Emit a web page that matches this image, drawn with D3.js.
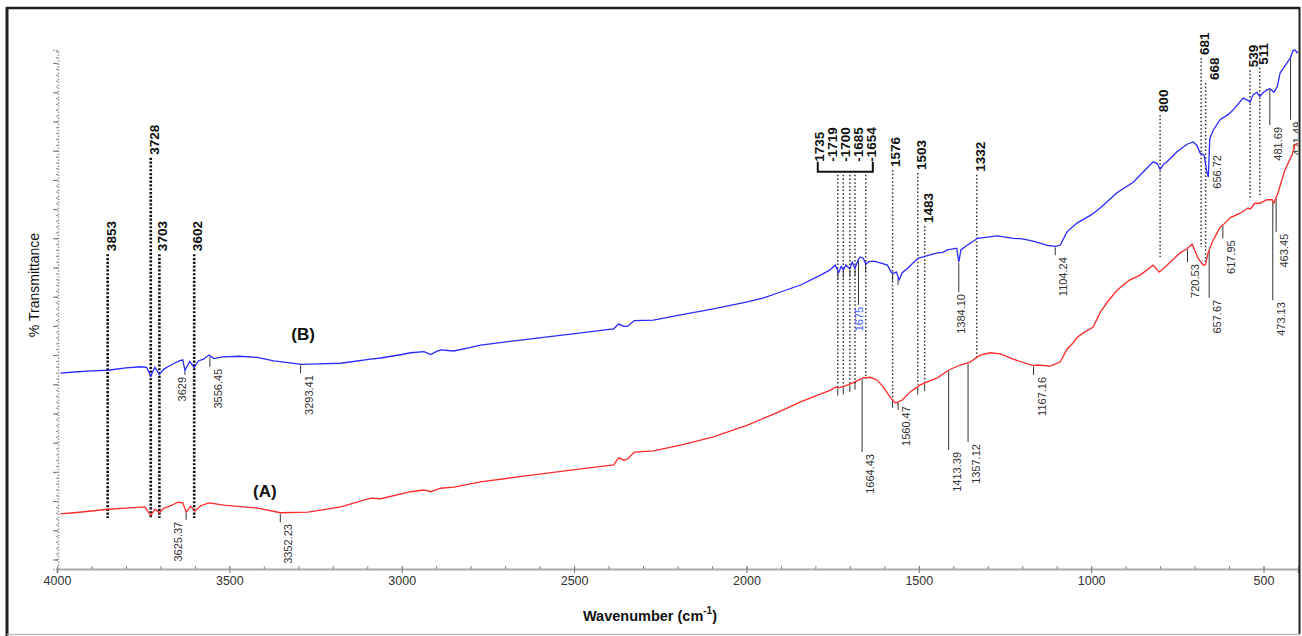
<!DOCTYPE html>
<html><head><meta charset="utf-8">
<script src="https://cdn.jsdelivr.net/npm/d3@7"></script>
<style>body{margin:0;background:#fff} svg{display:block} text{font-family:"Liberation Sans",Arial,Helvetica,sans-serif}</style>
</head><body><svg id="c" width="1302" height="636"></svg>
<script>
// ---------- DATA ----------
// Spectrum (B), blue: [wavenumber cm-1, %T]
const spectrumB = [
[3990,31.9],[3950,32.1],[3900,32.3],[3852,32.4],[3800,32.8],[3757,33.0],[3740,32.9],[3728,31.4],[3716,32.9],
[3703,31.7],[3690,32.6],[3678,33.0],[3660,33.6],[3645,34.0],[3635,34.2],[3629,32.4],[3615,33.9],[3602,32.9],
[3590,34.0],[3575,34.3],[3559,35.0],[3545,34.4],[3520,34.7],[3470,34.8],[3420,34.6],[3371,34.0],[3330,33.7],
[3293,33.4],[3240,33.5],[3177,33.6],[3090,34.3],[3061,34.5],[3000,35.1],[2974,35.4],[2935,35.6],[2916,35.1],
[2900,35.6],[2887,35.9],[2849,35.7],[2800,36.3],[2771,36.7],[2680,37.4],[2577,38.1],[2480,38.8],[2385,39.5],
[2371,40.3],[2355,39.9],[2345,39.9],[2325,40.9],[2270,41.0],[2191,41.9],[2096,42.9],[1997,44.1],[1950,44.8],
[1901,45.8],[1843,47.0],[1785,48.7],[1760,49.5],[1742,50.4],[1733,49.1],[1725,50.2],[1719,49.6],[1712,50.4],
[1700,49.8],[1693,50.9],[1685,49.9],[1675,51.4],[1670,51.8],[1661,51.6],[1654,50.6],[1645,51.0],[1630,51.1],
[1612,50.8],[1591,50.4],[1580,49.2],[1574,49.0],[1565,49.2],[1557,47.9],[1548,49.1],[1530,50.0],[1516,50.8],
[1501,51.6],[1487,51.8],[1470,52.1],[1446,52.5],[1430,52.6],[1417,53.0],[1390,53.3],[1384,50.9],[1378,53.0],
[1365,53.6],[1342,54.5],[1330,55.0],[1301,55.2],[1272,55.4],[1226,55.0],[1200,54.9],[1168,54.5],[1127,53.8],
[1104,53.6],[1090,53.8],[1070,56.1],[1041,57.6],[1000,59.0],[974,60.2],[925,62.8],[878,64.6],[850,66.3],
[820,68.1],[808,67.8],[800,66.8],[790,67.7],[780,68.1],[751,69.8],[722,71.1],[704,71.5],[693,70.9],[684,69.6],
[672,69.2],[665,66.5],[660,65.5],[656,72.0],[646,73.5],[626,75.3],[600,76.3],[588,77.0],[559,79.0],[545,78.6],
[539,78.3],[530,79.6],[519,80.0],[511,79.3],[500,80.0],[490,80.4],[481,80.6],[470,80.0],[460,81.0],[452,83.3],
[440,84.3],[430,85.2],[423,85.8],[414,87.2],[408,87.2],[403,86.8],[400,86.9]
];
// Spectrum (A), red
const spectrumA = [
[3990,7.8],[3950,8.0],[3900,8.3],[3852,8.6],[3800,8.8],[3745,9.0],[3728,7.5],[3716,8.6],[3703,8.0],[3690,8.8],
[3678,9.0],[3660,9.5],[3649,9.8],[3635,9.7],[3625,8.1],[3612,9.1],[3600,8.3],[3583,9.2],[3559,9.7],[3516,9.3],
[3460,9.0],[3417,8.8],[3352,8.0],[3272,8.1],[3177,9.0],[3090,10.5],[3061,10.4],[2974,11.6],[2935,11.9],[2916,11.6],
[2887,12.2],[2849,12.4],[2771,13.3],[2680,14.0],[2577,14.8],[2480,15.5],[2385,16.2],[2371,17.4],[2355,17.0],
[2345,17.2],[2325,18.4],[2270,18.6],[2191,19.6],[2096,21.0],[1997,23.0],[1901,25.4],[1843,27.0],[1756,29.0],
[1742,29.5],[1733,29.4],[1715,29.7],[1693,30.2],[1661,31.1],[1641,31.2],[1620,30.7],[1603,29.5],[1583,27.8],
[1568,26.8],[1559,27.0],[1548,27.3],[1525,28.7],[1496,29.9],[1475,30.4],[1446,31.1],[1414,32.4],[1380,33.3],
[1351,33.8],[1330,34.7],[1322,35.0],[1293,35.4],[1264,35.2],[1226,34.3],[1185,33.5],[1167,33.2],[1156,33.3],
[1119,33.1],[1090,33.8],[1070,36.0],[1052,37.1],[1041,38.0],[1023,38.8],[994,39.8],[974,42.3],[950,44.3],
[925,46.1],[890,47.8],[858,48.7],[820,50.4],[803,49.2],[780,50.4],[742,52.5],[722,53.2],[707,54.0],[690,51.6],
[675,50.4],[668,50.5],[661,52.5],[646,54.7],[641,55.2],[626,56.9],[617,57.3],[597,58.5],[568,59.3],[545,60.2],
[539,60.0],[525,61.0],[511,61.0],[490,61.6],[475,61.6],[470,61.0],[458,62.8],[438,66.7],[417,69.3],[409,71.0],
[400,71.3]
];
const xTickValues = [4000,3500,3000,2500,2000,1500,1000,500];
const xMinorTicks = d3.range(400, 4001, 100);
const yMajorTicks = d3.range(0, 86, 5);
const yMinorTicks = d3.range(0, 88, 1);

// Assigned bands (bold labels with dotted guide lines)
const bandWn   = [3853,3728,3703,3602,1735,1719,1700,1685,1654,1576,1503,1483,1332,800,681,668,539,511];
const bandText = ["3853","3728","3703","3602","1735","-1719","-1700","-1685","-1654","1576","1503","1483","1332","800","681","668","539","511"];
const bandLabelBase = [52.8,69.3,52.8,52.8,68.1,68.1,68.1,68.1,68.1,67.2,66.7,57.6,66.4,76.6,86.4,82.1,84.3,84.7];
const bandLineEnd   = [7.1,7.1,7.1,7.1,29.4,29.5,29.9,30.05,30.9,27.3,29.9,30.2,34.5,51.8,53.5,50.9,61.6,62.4];
const bandGroup = [1,1,1,1,2,2,2,2,2,0,0,0,0,0,0,0,0,0]; // 1 = heavy, 2 = bracketed

// Peak-pick labels with leaders
const peakWn = [3629,3556.45,3293.41,1675,1384.10,1104.24,656.72,481.69,421.49,
                3625.37,3352.23,1664.43,1560.47,1413.39,1357.12,1167.16,720.53,657.67,617.95,473.13,463.45];
const peakText = ["3629","3556.45","3293.41","1675","1384.10","1104.24","656.72","481.69","421.49",
                  "3625.37","3352.23","1664.43","1560.47","1413.39","1357.12","1167.16","720.53","657.67","617.95","473.13","463.45"];
const peakSeries = ["B","B","B","B","B","B","B","B","B","A","A","A","A","A","A","A","A","A","A","A","A"];
const peakEnd = [31.6,33.0,31.9,43.6,45.8,52.1,69.6,74.4,75.3,6.8,6.4,18.4,26.6,18.75,20.1,31.6,50.9,44.8,55.0,44.4,56.1];

// Unlabelled peak-pick ticks
const tickWn     = [1735,1719,1700,1685,1654,1576,1560,1735,1719,1700,1685,1576,1560,1503,1483];
const tickSeries = ["B","B","B","B","B","B","B","A","A","A","A","A","A","A","A"];

const seriesName = ["(B)","(A)"];
const seriesNamePos = [[3286,37.6],[3397,10.7]];

// ---------- LAYOUT ----------
const svg = d3.select("#c");
const W = 1302, H = 636;
svg.append("rect").attr("width",W).attr("height",H).attr("fill","#fff");
const x = d3.scaleLinear().domain([4000,400]).range([57,1298]);
const y = d3.scaleLinear().domain([-1.63,87.24]).range([569,50]);

svg.append("defs").append("clipPath").attr("id","plotclip")
  .append("rect").attr("x",50).attr("y",20).attr("width",1298-50).attr("height",560);
svg.select("defs").append("clipPath").attr("id","frameclip")
  .append("rect").attr("x",8).attr("y",9).attr("width",1290).attr("height",624);

// axes
const xAxisG = svg.append("g").attr("transform","translate(0,569)");
xAxisG.call(d3.axisBottom(x).tickValues(xTickValues).tickSize(4).tickPadding(3).tickFormat(d3.format("d")));
xAxisG.select(".domain").attr("stroke","#aaa").attr("stroke-width",2);
xAxisG.selectAll(".tick line").attr("stroke","#777").attr("y1",-3);
xAxisG.selectAll(".tick text").attr("font-size",12.5).attr("fill","#333").attr("font-family","'Liberation Sans',Arial,sans-serif");
const xMinorG = svg.append("g").attr("transform","translate(0,569)");
xMinorG.call(d3.axisBottom(x).tickValues(xMinorTicks).tickSize(-3).tickFormat(""));
xMinorG.select(".domain").remove();
xMinorG.selectAll(".tick line").attr("stroke","#888");

const yAxisG = svg.append("g").attr("transform","translate(58,0)");
yAxisG.call(d3.axisLeft(y).tickValues(yMajorTicks).tickSize(5).tickFormat(""));
yAxisG.select(".domain").attr("stroke","#999").attr("stroke-dasharray","1.5,1.5").attr("stroke-width",1.5);
yAxisG.selectAll(".tick line").attr("stroke","#666");
const yMinorG = svg.append("g").attr("transform","translate(58,0)");
yMinorG.call(d3.axisLeft(y).tickValues(yMinorTicks).tickSize(2).tickFormat(""));
yMinorG.select(".domain").remove();
yMinorG.selectAll(".tick line").attr("stroke","#888");

svg.append("text").attr("transform","translate(39,285) rotate(-90)").attr("text-anchor","middle")
  .attr("font-size",14).attr("fill","#111").text("% Transmittance");
const xt = svg.append("text").attr("x",650).attr("y",621).attr("text-anchor","middle")
  .attr("font-size",14.5).attr("font-weight","bold").attr("fill","#111");
xt.append("tspan").text("Wavenumber (cm");
xt.append("tspan").attr("font-size",10).attr("dy",-7).text("-1");
xt.append("tspan").attr("dy",7).text(")");

// helpers
function interp(arr, w){
  const asc = arr.slice().sort((a,b)=>a[0]-b[0]);
  const i = d3.bisector(d=>d[0]).left(asc, w);
  if (i<=0) return asc[0][1];
  if (i>=asc.length) return asc[asc.length-1][1];
  const a = asc[i-1], b = asc[i];
  return a[1] + (b[1]-a[1])*(w-a[0])/(b[0]-a[0]);
}
const seriesData = {B: spectrumB, A: spectrumA};

// guide lines & band labels
const ann = svg.append("g").attr("clip-path","url(#frameclip)");
const bx0 = x(bandWn[4]) - 19, bStep = 13;
bandWn.forEach((w,i)=>{
  const lx = x(w);
  let labelX = lx + 3, labelY = y(bandLabelBase[i]), startY = labelY + 3;
  if (bandGroup[i]===2){ labelX = bx0 + bStep*(i-4); startY = labelY + 13; }
  if (bandText[i]==="668") labelX = lx + 9;
  const heavy = bandGroup[i]===1;
  ann.append("line").attr("x1",lx).attr("x2",lx).attr("y1",startY).attr("y2",y(bandLineEnd[i]))
    .attr("stroke", heavy? "#111":"#333").attr("stroke-width", heavy?2.6:1.5)
    .attr("stroke-dasharray", heavy?"2.2,1.6":"1.5,2.2");
  ann.append("text").attr("transform",`translate(${labelX},${labelY}) rotate(-90)`)
    .attr("dy","0.36em").attr("font-size",13.5).attr("font-weight","bold").attr("fill","#111").text(bandText[i]);
});
// bracket
{
  const by = y(bandLabelBase[4]) + 10;
  const bl = bx0 - 1, br = bx0 + bStep*4 + 2;
  ann.append("path").attr("d",`M${bl},${by-10}V${by}H${br}V${by-10}`)
    .attr("fill","none").attr("stroke","#111").attr("stroke-width",2);
}

// curves
const line = d3.line().x(d=>x(d[0])).y(d=>y(d[1]));
const cg = svg.append("g").attr("clip-path","url(#plotclip)");
cg.append("path").datum(spectrumA).attr("d",line).attr("fill","none").attr("stroke","#ff2a2a").attr("stroke-width",1.3);
cg.append("path").datum(spectrumB).attr("d",line).attr("fill","none").attr("stroke","#2a2aff").attr("stroke-width",1.3);

// small ticks
tickWn.forEach((w,i)=>{
  const v = interp(seriesData[tickSeries[i]], w);
  ann.append("line").attr("x1",x(w)).attr("x2",x(w)).attr("y1",y(v)+1).attr("y2",y(v)+8)
    .attr("stroke","#333").attr("stroke-width",1);
});

// peak labels
const nudge = {"3625.37":-8,"3629":-3,"1384.10":2,"1675":1,"421.49":6};
peakWn.forEach((w,i)=>{
  const v = interp(seriesData[peakSeries[i]], w);
  const lx = x(w);
  const y0 = y(v)+1, y1 = y(peakEnd[i]);
  ann.append("line").attr("x1",lx).attr("x2",lx).attr("y1",y0).attr("y2",y1).attr("stroke","#333").attr("stroke-width",1);
  const tx = lx + (nudge[peakText[i]] ?? 8);
  ann.append("text").attr("transform",`translate(${tx},${y1+2}) rotate(-90)`)
    .attr("text-anchor","end").attr("dy","0.36em").attr("font-size",11)
    .attr("fill", peakText[i]==="1675" ? "#3b5bff" : "#333").text(peakText[i]);
});

// series names
seriesName.forEach((n,i)=>{
  svg.append("text").attr("x",x(seriesNamePos[i][0])).attr("y",y(seriesNamePos[i][1]))
    .attr("text-anchor","middle").attr("font-family","'Liberation Serif','Times New Roman',serif")
    .attr("font-weight","bold").attr("font-size",17).attr("fill","#111").text(n);
});

// frame
svg.append("line").attr("x1",7).attr("x2",7).attr("y1",7).attr("y2",636).attr("stroke","#222").attr("stroke-width",3);
svg.append("line").attr("x1",6).attr("x2",1300).attr("y1",8).attr("y2",8).attr("stroke","#222").attr("stroke-width",2.5);
svg.append("line").attr("x1",1299.5).attr("x2",1299.5).attr("y1",7).attr("y2",634).attr("stroke","#222").attr("stroke-width",2);
svg.append("line").attr("x1",7).attr("x2",1300).attr("y1",634.5).attr("y2",634.5).attr("stroke","#bbb").attr("stroke-width",1.5);
</script></body></html>
